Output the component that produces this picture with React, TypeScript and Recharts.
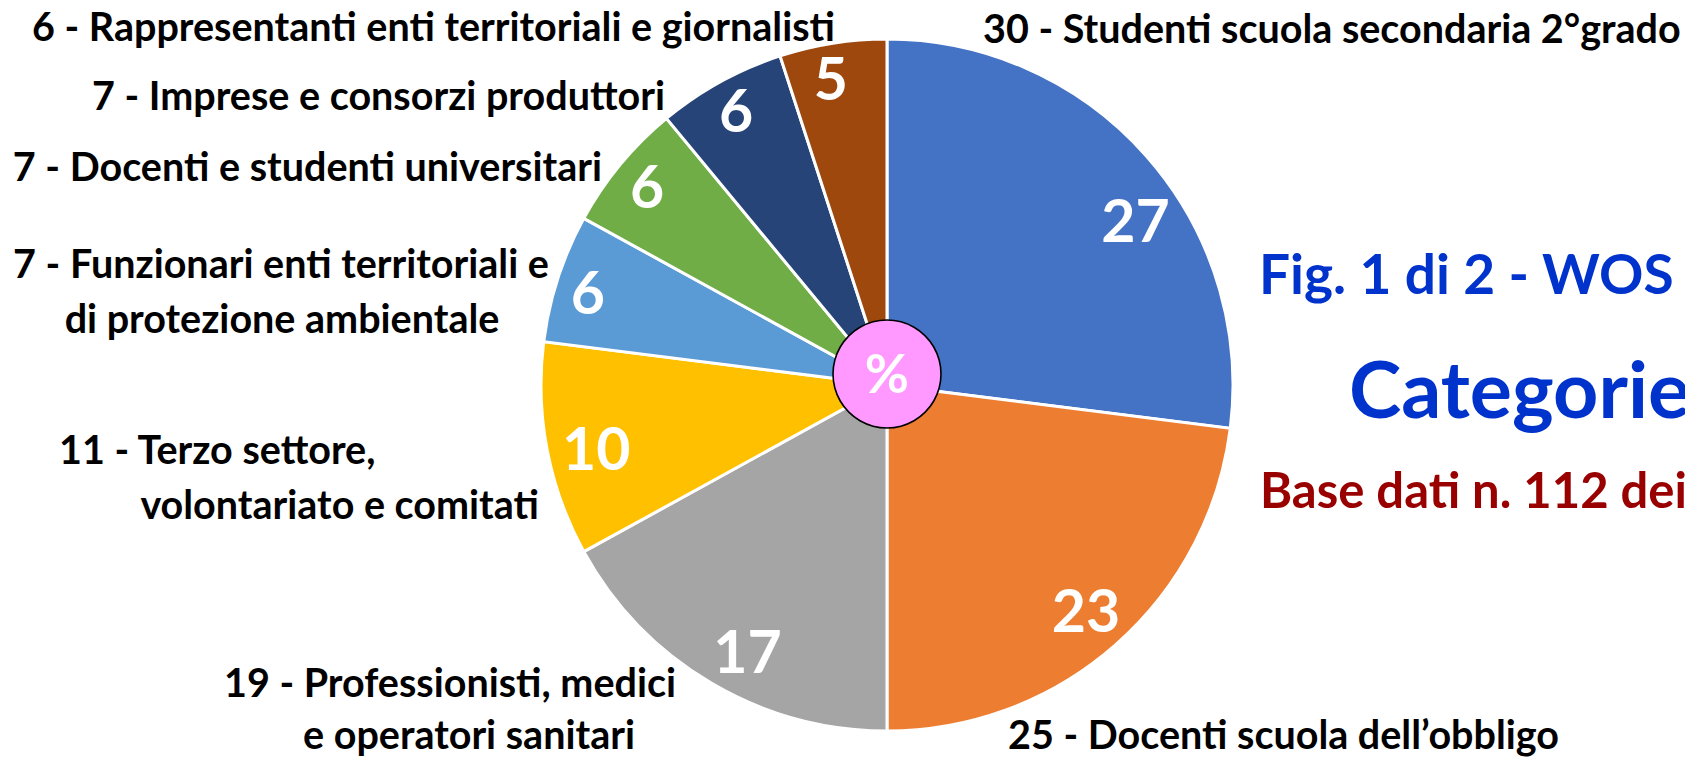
import React from 'react';
import { PieChart, Pie, Cell } from 'recharts';

// ---------- data ----------
const categories = [
  'Studenti scuola secondaria 2°grado',
  'Docenti scuola dell’obbligo',
  'Professionisti, medici\ne operatori sanitari',
  'Terzo settore,\nvolontariato e comitati',
  'Funzionari enti territoriali e\ndi protezione ambientale',
  'Docenti e studenti universitari',
  'Imprese e consorzi produttori',
  'Rappresentanti enti territoriali e giornalisti',
];
const counts = [30, 25, 19, 11, 7, 7, 7, 6];
const percentages = [27, 23, 17, 10, 6, 6, 6, 5];
const centerSymbol = ['%'];
const titleLines = ['Fig. 1 di 2 - WOS', 'Categorie', 'Base dati n. 112 dei'];

// ---------- styles / layout ----------
const W = 1685;
const H = 757;
const CX = 887;
const CY = 385;
const R = 346;
const BADGE_CY = 374;
const BADGE_R = 54;
const FONT = "Lato, 'Open Sans', 'Liberation Sans', sans-serif";
const sliceColors = ['#4472C4', '#ED7D31', '#A5A5A5', '#FFC000', '#5B9BD5', '#70AD47', '#264478', '#9E480E'];

// inner number label placement: fraction of radius, clockwise angle shift (deg)
const numberPlacement = [
  { r: 0.86, shift: 8 },
  { r: 0.87, shift: 0 },
  { r: 0.87, shift: -3 },
  { r: 0.86, shift: -1.5 },
  { r: 0.905, shift: -0.8 },
  { r: 0.9, shift: 0 },
  { r: 0.905, shift: 0 },
  { r: 0.9, shift: -1.4 },
];

// category label lines: x, baseline y, anchor
const categoryLayout = [
  [{ x: 983, y: 43, a: 'start' }],
  [{ x: 1008, y: 749, a: 'start' }],
  [{ x: 450, y: 697, a: 'middle' }, { x: 469, y: 749, a: 'middle' }],
  [{ x: 59, y: 464, a: 'start' }, { x: 539, y: 519, a: 'end' }],
  [{ x: 281, y: 278, a: 'middle' }, { x: 282, y: 333, a: 'middle' }],
  [{ x: 602, y: 181, a: 'end' }],
  [{ x: 665, y: 110, a: 'end' }],
  [{ x: 835, y: 41, a: 'end' }],
];

const pieData = categories.map((c, i) => ({ name: c, value: percentages[i], count: counts[i] }));
const badgeData = centerSymbol.map((s) => ({ name: s, value: 1 }));

const NUM_FONT = 59;
const CAT_FONT = 39.5;

const renderSliceLabel = (props: any) => {
  const { midAngle, index } = props;
  const cx = typeof props.cx === 'number' ? props.cx : CX;
  const cy = typeof props.cy === 'number' ? props.cy : CY;
  const p = numberPlacement[index];
  const ang = ((midAngle - p.shift) * Math.PI) / 180;
  const rr = R * p.r;
  const x = cx + rr * Math.cos(ang);
  const y = cy - rr * Math.sin(ang);
  const lines = `${counts[index]} - ${categories[index]}`.split('\n');
  return (
    <g key={`lab-${index}`}>
      <text
        x={x}
        y={y + NUM_FONT * 0.36}
        fill="#ffffff"
        fontSize={NUM_FONT}
        fontWeight={700}
        fontFamily={FONT}
        textAnchor="middle"
      >
        {percentages[index]}
      </text>
      {lines.map((ln, j) => {
        const l = categoryLayout[index][j];
        return (
          <text
            key={j}
            x={l.x}
            y={l.y}
            fill="#000000"
            fontSize={CAT_FONT}
            fontWeight={700}
            fontFamily={FONT}
            textAnchor={l.a as any}
          >
            {ln}
          </text>
        );
      })}
    </g>
  );
};

const renderBadgeLabel = (props: any) => {
  const cx = typeof props.cx === 'number' ? props.cx : CX;
  const cy = typeof props.cy === 'number' ? props.cy : BADGE_CY;
  return (
    <text
      x={cx}
      y={cy + 19}
      fill="#ffffff"
      fontSize={54}
      fontWeight={700}
      fontFamily={FONT}
      textAnchor="middle"
    >
      {centerSymbol[0]}
    </text>
  );
};

export default function App() {
  return (
    <div style={{ position: 'relative', width: W, height: H, background: '#ffffff', overflow: 'hidden' }}>
      <style>{`html,body{margin:0;padding:0;background:#fff;}`}</style>
      <PieChart width={W} height={H} margin={{ top: 0, right: 0, bottom: 0, left: 0 }}>
        <Pie
          data={pieData}
          dataKey="value"
          nameKey="name"
          cx={CX}
          cy={CY}
          outerRadius={R}
          startAngle={90}
          endAngle={-270}
          stroke="#ffffff"
          strokeWidth={3}
          label={renderSliceLabel}
          labelLine={false}
          isAnimationActive={false}
        >
          {pieData.map((d, i) => (
            <Cell key={i} fill={sliceColors[i]} />
          ))}
        </Pie>
        <Pie
          data={badgeData}
          dataKey="value"
          cx={CX}
          cy={BADGE_CY}
          outerRadius={BADGE_R}
          startAngle={90}
          endAngle={-270}
          fill="#FF99FF"
          stroke="none"
          label={renderBadgeLabel}
          labelLine={false}
          isAnimationActive={false}
        />
        <Pie
          data={badgeData}
          dataKey="value"
          cx={CX}
          cy={BADGE_CY}
          innerRadius={BADGE_R - 0.8}
          outerRadius={BADGE_R + 0.8}
          startAngle={90}
          endAngle={-270}
          fill="#000000"
          stroke="none"
          isAnimationActive={false}
        />
      </PieChart>
      <svg
        width={W}
        height={H}
        style={{ position: 'absolute', left: 0, top: 0, pointerEvents: 'none' }}
      >
        <text x={1259} y={294} fill="#0033CC" fontSize={55} fontWeight={700} fontFamily={FONT}>
          {titleLines[0]}
        </text>
        <text x={1349} y={418} fill="#0033CC" fontSize={79} fontWeight={700} fontFamily={FONT}>
          {titleLines[1]}
        </text>
        <text x={1260} y={508} fill="#990000" fontSize={49} fontWeight={700} fontFamily={FONT}>
          {titleLines[2]}
        </text>
      </svg>
    </div>
  );
}
